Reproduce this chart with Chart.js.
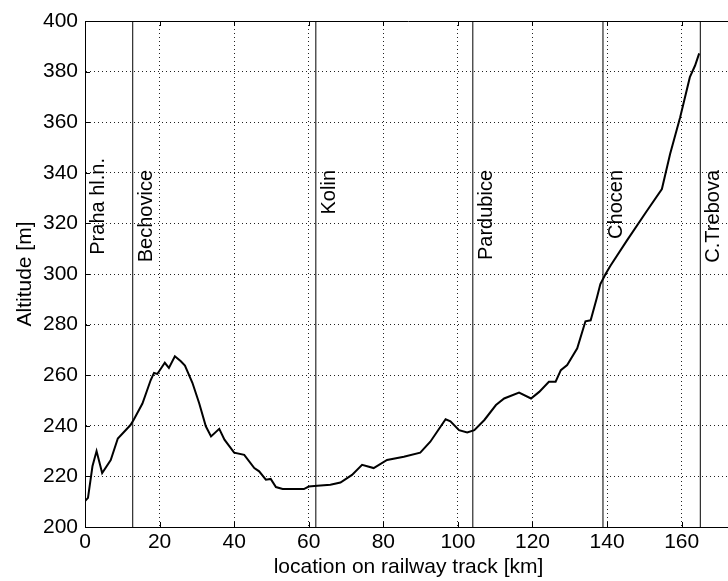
<!DOCTYPE html>
<html>
<head>
<meta charset="utf-8">
<script src="https://cdn.jsdelivr.net/npm/chart.js@4"></script>
<style>
html,body{margin:0;padding:0;overflow:hidden;background:#fff}
#wrap{width:736px;height:581px;position:relative}
</style>
</head>
<body>
<div id="wrap"><canvas id="c"></canvas></div>
<script>
// ---- data ----
const trackKm = [0,0.8,2.0,3.1,4.6,6.9,8.8,12.2,13.1,15.4,17.6,18.5,19.4,21.4,22.5,24.1,25.7,26.8,28.8,30.6,32.4,33.8,36,37.4,40,42.7,45.4,46.7,48.5,49.8,51.2,53,58.7,60,62.3,65.8,68.5,71.6,74.3,77.4,81,85.5,89.9,92.6,96.7,98,100.3,102.5,104.4,107.1,110.2,112.4,116.4,119.6,121.8,124.4,126.2,127.6,129.3,132,134.2,135.6,137.3,138.2,139.6,140.9,145.3,150.7,154.7,156.9,159.6,162.2,163.6,164.7];
const altitudeM = [210.2,211.5,224,230,221.3,226.5,235,240.3,242.5,248.8,258,260.9,260.5,264.9,262.9,267.5,265.5,263.8,257,249,239.8,235.8,238.8,234.5,229.4,228.5,223.3,222,218.7,219,215.8,215,215,216,216.3,216.7,217.6,220.6,224.6,223.3,226.5,227.8,229.4,233.7,242.6,241.8,238.3,237.4,238.3,242.3,248.2,250.8,253.1,250.8,253.4,257.4,257.4,262,264,270.6,281.3,281.7,290.8,296,300,303.3,313.2,325,333.6,347.4,362,377.8,382.4,387.2];
const stationNames = ['Praha hl.n.','Bechovice','Kolin','Pardubice','Chocen','C.Trebova'];
const stationKm = [0,12.8,61.9,104,138.9,165];
const xTickValues = [0,20,40,60,80,100,120,140,160];
const yTickValues = [200,220,240,260,280,300,320,340,360,380,400];
const xTitle = 'location on railway track [km]';
const yTitle = 'Altitude [m]';

// ---- styles ----
const FONT = "'Liberation Sans', Arial, sans-serif";
const labelTopPx = {'Praha hl.n.': 158};
const defaultLabelTop = 170;

const profile = trackKm.map((k,i)=>({x:k, y:altitudeM[i]}));
const stationSets = stationKm.map((k,i)=>({
  label: stationNames[i],
  data: [{x:k,y:200},{x:k,y:400}],
  borderColor:'#000', borderWidth:1, pointRadius:0, fill:false
}));

const overlay = {
  id:'overlay',
  afterDraw(chart){
    const {ctx, chartArea:a, scales:{x,y}} = chart;
    ctx.save();
    ctx.strokeStyle='#000'; ctx.lineWidth=1; ctx.setLineDash([]);
    ctx.beginPath();
    ctx.moveTo(a.left, Math.round(a.top)+0.5); ctx.lineTo(a.right, Math.round(a.top)+0.5);
    xTickValues.forEach(v=>{
      const px = Math.round(x.getPixelForValue(v))+0.5;
      ctx.moveTo(px,a.bottom); ctx.lineTo(px,a.bottom-5);
      ctx.moveTo(px,a.top); ctx.lineTo(px,a.top+5);
    });
    yTickValues.forEach(v=>{
      const py = Math.round(y.getPixelForValue(v))+0.5;
      ctx.moveTo(a.left,py); ctx.lineTo(a.left+5,py);
    });
    ctx.stroke();
    ctx.fillStyle='#000';
    ctx.font = '20px ' + FONT;
    stationNames.forEach((n,i)=>{
      const px = x.getPixelForValue(stationKm[i]);
      const top = labelTopPx[n] !== undefined ? labelTopPx[n] : defaultLabelTop;
      ctx.save();
      ctx.translate(px+19, top);
      ctx.rotate(-Math.PI/2);
      ctx.textAlign='right'; ctx.textBaseline='alphabetic';
      ctx.fillText(n,0,0);
      ctx.restore();
    });
    ctx.restore();
  }
};

new Chart(document.getElementById('c'), {
  type:'line',
  data:{ datasets:[
    {label:'Altitude', data:profile, borderColor:'#000', borderWidth:2, pointRadius:0, tension:0, fill:false},
    ...stationSets
  ]},
  options:{
    responsive:true, maintainAspectRatio:false, animation:false, devicePixelRatio:1,
    layout:{padding:{top:21,right:4,left:0,bottom:0}},
    plugins:{legend:{display:false}, tooltip:{enabled:false}},
    scales:{
      x:{
        type:'linear', min:0, max:173.5,
        afterBuildTicks:s=>{s.ticks = xTickValues.map(v=>({value:v}));},
        afterFit:s=>{s.height=54;},
        ticks:{font:{family:FONT,size:21}, color:'#000', padding:3, maxRotation:0, autoSkip:false},
        grid:{color:'#222', lineWidth:1, drawTicks:false},
        border:{display:true, color:'#000', width:1, dash:[1,3]},
        title:{display:true, text:xTitle, font:{family:FONT,size:21}, color:'#000', padding:{top:0,bottom:1}}
      },
      y:{
        type:'linear', min:200, max:400,
        afterBuildTicks:s=>{s.ticks = yTickValues.map(v=>({value:v}));},
        afterFit:s=>{s.width=85;},
        ticks:{font:{family:FONT,size:21}, color:'#000', padding:7},
        grid:{color:'#222', lineWidth:1, drawTicks:false},
        border:{display:true, color:'#000', width:1, dash:[1,3]},
        title:{display:true, text:yTitle, font:{family:FONT,size:21}, color:'#000', padding:{top:13,bottom:0}}
      }
    }
  },
  plugins:[overlay]
});
</script>
</body>
</html>
